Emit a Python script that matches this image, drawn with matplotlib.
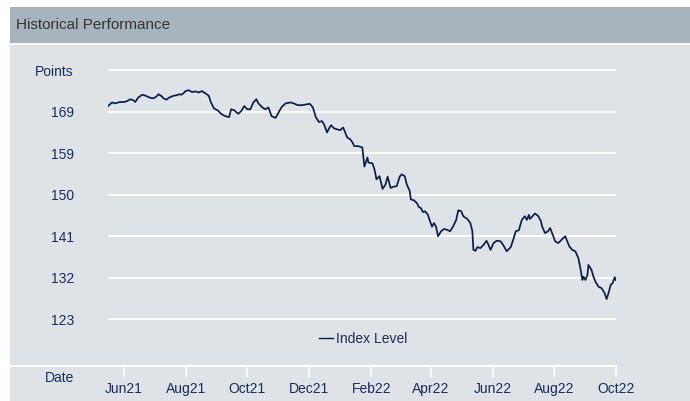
import matplotlib
matplotlib.use('Agg')
import matplotlib.pyplot as plt
from matplotlib.lines import Line2D
from matplotlib.patches import Rectangle
import pandas as pd

# index level, days counted from start_date
start_date = '2021-05-16'
day_offsets = [0, 2, 4, 7, 10, 13, 16, 19, 22, 25,
               27, 30, 34, 37, 42, 45, 48, 50, 53, 55,
               58, 60, 64, 68, 71, 73, 77, 80, 83, 87,
               90, 93, 95, 98, 100, 102, 105, 109, 112, 116,
               120, 122, 125, 129, 132, 135, 138, 141, 144, 147,
               149, 153, 156, 159, 162, 164, 166, 168, 172, 176,
               181, 184, 188, 192, 197, 200, 203, 206, 209, 212,
               214, 217, 219, 221, 224, 227, 230, 233, 235, 237,
               240, 242, 244, 248, 252, 253, 254, 257, 258, 262,
               264, 266, 269, 272, 275, 277, 280, 283, 286, 289,
               291, 294, 296, 299, 300, 303, 306, 308, 310, 312,
               314, 317, 319, 321, 323, 325, 327, 330, 333, 336,
               339, 342, 345, 347, 350, 352, 356, 359, 361, 362,
               364, 366, 369, 372, 375, 377, 379, 382, 385, 389,
               392, 395, 399, 402, 404, 407, 410, 413, 415, 417,
               418, 421, 423, 426, 429, 430, 433, 436, 438, 440,
               443, 446, 448, 450, 453, 455, 457, 460, 463, 466,
               468, 470, 471, 473, 475, 476, 479, 481, 483, 486,
               489, 492, 494, 496, 498, 500, 502, 503]
index_level = [169.8, 170.2, 170.6, 170.4, 170.6, 170.7, 170.7, 170.9, 171.3, 171.1,
               170.7, 171.7, 172.3, 172.1, 171.6, 171.5, 171.9, 172.4, 172.0, 171.5,
               171.2, 171.6, 172.0, 172.2, 172.4, 172.3, 173.1, 173.3, 172.9, 173.0,
               172.8, 173.1, 172.8, 172.4, 172.0, 170.6, 169.3, 168.8, 168.1, 167.6,
               167.4, 169.1, 168.9, 168.1, 168.7, 169.8, 169.1, 169.1, 170.6, 171.3,
               170.4, 169.5, 169.1, 169.5, 167.6, 167.4, 167.2, 168.0, 169.6, 170.4,
               170.6, 170.4, 170.0, 170.0, 170.2, 170.3, 169.5, 167.3, 166.3, 166.5,
               165.8, 164.0, 164.9, 165.6, 164.9, 164.7, 164.5, 165.1, 164.0, 162.9,
               162.5, 161.9, 161.0, 161.0, 160.7, 158.5, 156.5, 158.5, 157.4, 157.2,
               155.9, 153.7, 154.4, 151.6, 152.6, 154.3, 151.8, 152.1, 152.2, 154.3,
               154.8, 154.4, 152.6, 151.1, 149.3, 149.1, 148.5, 147.6, 147.4, 146.5,
               146.7, 145.9, 144.5, 143.3, 144.1, 143.3, 141.2, 142.3, 142.8, 142.6,
               142.3, 143.4, 144.8, 146.9, 146.7, 145.6, 145.0, 144.1, 142.3, 138.2,
               138.0, 138.8, 138.6, 139.3, 140.2, 139.3, 138.2, 139.7, 140.2, 140.1,
               139.1, 137.9, 138.8, 140.8, 142.3, 142.5, 144.8, 145.6, 144.8, 145.9,
               145.0, 145.7, 146.2, 145.7, 144.5, 143.4, 141.9, 142.3, 143.0, 141.9,
               140.1, 139.7, 140.1, 140.6, 141.2, 140.1, 139.0, 138.2, 137.9, 136.4,
               134.2, 131.6, 132.3, 131.6, 132.7, 134.9, 133.8, 132.3, 131.2, 130.1,
               129.8, 128.7, 127.4, 128.8, 130.5, 130.9, 132.2, 131.6]

y_ticks = [122.95, 132.08, 141.21, 150.34, 159.47, 168.60, 177.73]
y_tick_labels = ['123', '132', '141', '150', '159', '169', 'Points']
month_ticks = ['2021-06-01', '2021-08-01', '2021-10-01', '2021-12-01', '2022-02-01',
               '2022-04-01', '2022-06-01', '2022-08-01', '2022-10-01']
month_labels = ['Jun21', 'Aug21', 'Oct21', 'Dec21', 'Feb22', 'Apr22', 'Jun22', 'Aug22', 'Oct22']

W, H = 690, 401
PANEL = '#dde3e7'
BAR = '#a7b4be'
NAVY = '#1c2b5a'
LINE = '#0d1d45'

plt.rcParams['font.family'] = ['Liberation Sans', 'DejaVu Sans']


def fx(px):
    return px / W


def fy(py):
    return 1 - py / H


def draw_chart():
    fig = plt.figure(figsize=(W / 100, H / 100), dpi=100)
    fig.patch.set_facecolor('white')

    # panel and title bar
    fig.add_artist(Rectangle((fx(10), 0), 1 - fx(10), fy(7), transform=fig.transFigure,
                             facecolor=PANEL, edgecolor='none', zorder=0))
    fig.add_artist(Rectangle((fx(10), fy(43)), 1 - fx(10), fy(7) - fy(43), transform=fig.transFigure,
                             facecolor=BAR, edgecolor='none', zorder=0))
    fig.add_artist(Line2D([fx(10), 1], [fy(43.5), fy(43.5)], transform=fig.transFigure,
                          color='white', lw=1.2))
    fig.text(fx(16), fy(25), 'Historical Performance', fontsize=11, color='#333333',
             ha='left', va='center')

    dates = pd.to_datetime(start_date) + pd.to_timedelta(day_offsets, unit='D')

    # y pixels of the top and bottom gridlines
    top_px, bot_px = 70.0, 319.3
    per_px = (y_ticks[-1] - y_ticks[0]) / (bot_px - top_px)
    pad = 4
    ax = fig.add_axes([fx(108), fy(bot_px + pad), fx(615.7) - fx(108), fy(top_px - pad) - fy(bot_px + pad)])
    ax.set_facecolor('none')
    ax.set_ylim(y_ticks[0] - pad * per_px, y_ticks[-1] + pad * per_px)
    ax.set_xlim(dates[0], dates[-1])
    for v in y_ticks:
        ax.axhline(v, color='white', lw=1.4, zorder=1)
    ax.plot(dates, index_level, color=LINE, lw=1.25, zorder=3, label='Index Level')
    ax.set_yticks(y_ticks)
    ax.set_yticklabels(y_tick_labels)
    ax.tick_params(axis='y', length=0, pad=24.5, labelsize=10, labelcolor=NAVY)
    ax.set_xticks([])
    for s in ax.spines.values():
        s.set_visible(False)

    leg = ax.legend(loc='center', bbox_to_anchor=(fx(363), fy(339)), bbox_transform=fig.transFigure,
                    frameon=False, fontsize=10, handlelength=1.0, handletextpad=0.2,
                    labelcolor=NAVY)
    for h in leg.get_lines():
        h.set_linewidth(1.0)

    # date axis
    fig.add_artist(Line2D([fx(10), fx(615.7)], [fy(366), fy(366)], transform=fig.transFigure,
                          color='white', lw=1.4))
    axd = fig.add_axes([fx(108), fy(366), fx(615.7) - fx(108), 0.001])
    axd.set_facecolor('none')
    axd.set_xlim(dates[0], dates[-1])
    axd.set_yticks([])
    axd.set_xticks(pd.to_datetime(month_ticks))
    axd.set_xticklabels(month_labels)
    axd.tick_params(axis='x', direction='out', length=8, width=1.1, color='white',
                    pad=3.6, labelsize=10, labelcolor=NAVY)
    for s in axd.spines.values():
        s.set_visible(False)
    fig.text(fx(74), fy(377.5), 'Date', fontsize=10, color=NAVY, ha='right', va='center')
    return fig


if __name__ == "__main__":
    chart = draw_chart()
    plt.savefig('out.png', dpi=100)
